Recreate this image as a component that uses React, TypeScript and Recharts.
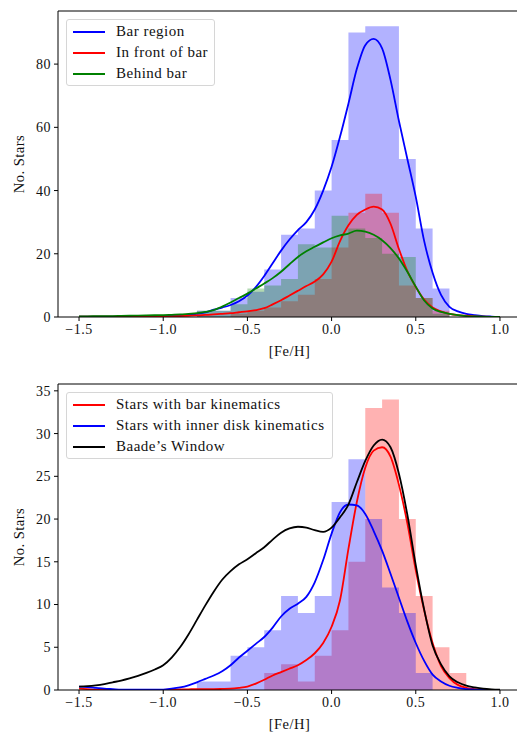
import { ComposedChart, Area, Line, XAxis, YAxis, Legend, Label, ReferenceLine } from "recharts"

// KDE sample positions ([Fe/H])
const xGrid = [
  -1.5, -1.45, -1.4, -1.35, -1.3, -1.25, -1.2, -1.15, -1.1, -1.05, -1.0, -0.95, -0.9, -0.85, -0.8, -0.75, -0.7,
  -0.65, -0.6, -0.55, -0.5, -0.45, -0.4, -0.35, -0.3, -0.25, -0.2, -0.15, -0.1, -0.05, 0, 0.05, 0.1, 0.15, 0.2,
  0.25, 0.3, 0.35, 0.4, 0.45, 0.5, 0.55, 0.6, 0.65, 0.7, 0.75, 0.8, 0.85, 0.9, 0.95, 1.0,
]

// histogram bin edges (16 bins of 0.1)
const binEdges = [-0.8, -0.7, -0.6, -0.5, -0.4, -0.3, -0.2, -0.1, 0, 0.1, 0.2, 0.3, 0.4, 0.5, 0.6, 0.7, 0.8]

// top panel counts
const barRegionHist = [2, 2, 6, 8, 15, 26, 28, 40, 56, 90, 92, 92, 50, 28, 9, 0]
const inFrontHist = [0, 0, 1, 2, 3, 5, 7, 12, 22, 33, 39, 33, 10, 6, 2, 0]
const behindHist = [2, 2, 4, 9, 10, 12, 23, 22, 32, 28, 25, 20, 19, 6, 1, 0]

// bottom panel counts
const barKinHist = [0, 0, 0, 0, 2, 3, 1, 4, 7, 15, 33, 34, 20, 11, 5, 2]
const innerDiskHist = [1, 1, 4, 5, 7, 11, 9, 11, 22, 27, 20, 12, 9, 2, 0, 0]

// top panel KDEs
const barRegionKde = [
  0.1, 0.1, 0.1, 0.1, 0.1, 0.1, 0.12, 0.15, 0.2, 0.25, 0.3, 0.4, 0.5, 0.7, 1.0, 1.5, 2.3, 3.0, 3.8, 5.0, 6.8, 9.5,
  13, 17, 21, 24.5, 27.5, 30, 34, 40, 47.5, 57, 67.5, 78.5, 86, 88, 85, 75, 62, 50, 38, 24, 14, 7, 3.2, 1.8, 1.0,
  0.6, 0.3, 0.15, 0.05,
]
const inFrontKde = [
  0.1, 0.1, 0.1, 0.1, 0.1, 0.1, 0.1, 0.12, 0.13, 0.14, 0.15, 0.2, 0.3, 0.4, 0.5, 0.65, 0.8, 1.0, 1.2, 1.5, 1.8, 2.2,
  2.8, 4.0, 5.3, 6.8, 8.3, 9.8, 11.2, 13.5, 17.5, 24, 29, 32.3, 34, 34.9, 34, 29.5, 21.5, 14.5, 9.5, 5.5, 3.0, 1.8,
  1.0, 0.6, 0.4, 0.2, 0.1, 0.05, 0.02,
]
const behindKde = [
  0.2, 0.22, 0.25, 0.28, 0.3, 0.35, 0.4, 0.45, 0.5, 0.55, 0.6, 0.7, 0.8, 1.0, 1.2, 1.6, 2.2, 3.3, 4.6, 6.0, 7.4, 9.0,
  10.6, 12.3, 14.3, 16.7, 19, 20.8, 22.2, 23.6, 24.9, 25.8, 26.4, 27.3, 27, 26, 24.3, 21.8, 18.5, 14.3, 9.6, 5.2,
  2.7, 1.6, 1.0, 0.6, 0.3, 0.2, 0.1, 0.05, 0.02,
]

// bottom panel KDEs
const barKinKde = [
  0.15, 0.1, 0.05, 0.03, 0.02, 0.02, 0.02, 0.02, 0.02, 0.02, 0.02, 0.04, 0.06, 0.08, 0.1, 0.1, 0.1, 0.12, 0.15, 0.25,
  0.4, 0.75, 1.2, 1.7, 2.1, 2.5, 2.9, 3.5, 4.3, 5.5, 7.4, 10.5, 16.5, 22, 26, 28, 28.4, 27.3, 24, 19.5, 14, 9.3,
  5.5, 2.8, 1.4, 0.6, 0.25, 0.1, 0.05, 0.02, 0.01,
]
const innerDiskKde = [
  0.4, 0.35, 0.25, 0.15, 0.1, 0.05, 0.05, 0.05, 0.05, 0.05, 0.05, 0.15, 0.3, 0.55, 0.9, 1.3, 1.7, 2.2, 2.9, 3.8,
  4.6, 5.4, 6.2, 7.3, 8.6, 9.5, 10.1, 10.9, 12.6, 15.2, 18.3, 20.8, 21.7, 21.6, 20.6, 18.6, 16.3, 13.6, 10.8, 8.0,
  5.5, 3.4, 1.8, 1.0, 0.5, 0.25, 0.1, 0.05, 0.02, 0.01, 0,
]
const baadeKde = [
  0.4, 0.45, 0.55, 0.7, 0.9, 1.1, 1.35, 1.65, 2.0, 2.4, 2.9, 3.8, 5.0, 6.5, 8.2, 9.9, 11.5, 12.9, 13.9, 14.7, 15.3,
  16.0, 16.7, 17.6, 18.4, 18.9, 19.1, 19.0, 18.7, 18.5, 19.0, 20.2, 21.7, 24.3, 26.8, 28.6, 29.3, 28.4, 25.3, 20.5,
  14.6, 9.4, 5.2, 3.0, 1.6, 0.9, 0.5, 0.3, 0.15, 0.08, 0.05,
]

const topLegend = [
  { label: "Bar region", color: "#0000ff" },
  { label: "In front of bar", color: "#ff0000" },
  { label: "Behind bar", color: "#008000" },
]
const bottomLegend = [
  { label: "Stars with bar kinematics", color: "#ff0000" },
  { label: "Stars with inner disk kinematics", color: "#0000ff" },
  { label: "Baade\u2019s Window", color: "#000000" },
]

const xTicks = [-1.5, -1.0, -0.5, 0, 0.5, 1.0]
const topYTicks = [0, 20, 40, 60, 80]
const bottomYTicks = [0, 5, 10, 15, 20, 25, 30, 35]

const FONT = '"Liberation Serif", "DejaVu Serif", serif'

function histAt(x: number, counts: number[]) {
  for (let i = 0; i < counts.length; i++) {
    if (x >= binEdges[i] - 1e-9 && x < binEdges[i + 1] - 1e-9) return counts[i]
  }
  return 0
}

const topData = xGrid.map((x, i) => ({
  x,
  barHist: histAt(x, barRegionHist),
  frontHist: histAt(x, inFrontHist),
  behindHist: histAt(x, behindHist),
  barKde: barRegionKde[i],
  frontKde: inFrontKde[i],
  behindKde: behindKde[i],
}))

const bottomData = xGrid.map((x, i) => ({
  x,
  kinHist: histAt(x, barKinHist),
  diskHist: histAt(x, innerDiskHist),
  kinKde: barKinKde[i],
  diskKde: innerDiskKde[i],
  baadeKde: baadeKde[i],
}))

const fmtX = (v: number) => (v < 0 ? "\u2212" : "") + Math.abs(v).toFixed(1)

function LegendBox({ items, width }: { items: { label: string; color: string }[]; width: number }) {
  return (
    <div
      style={{
        boxSizing: "border-box",
        width,
        height: 67,
        padding: "1px 6px 0 6px",
        border: "1px solid #d6d6d6",
        borderRadius: 3,
        background: "rgba(255,255,255,0.8)",
        fontFamily: FONT,
        fontSize: 15,
        letterSpacing: 0.5,
        color: "#111",
      }}
    >
      {items.map((it) => (
        <div key={it.label} style={{ height: 21, lineHeight: "21px", display: "flex", alignItems: "center", whiteSpace: "nowrap" }}>
          <svg width={32} height={4} style={{ marginRight: 11, flex: "none" }}>
            <line x1={0} y1={2} x2={32} y2={2} stroke={it.color} strokeWidth={2} />
          </svg>
          <span>{it.label}</span>
        </div>
      ))}
    </div>
  )
}

function yLabel(props: any) {
  const vb = props.viewBox || { x: 8, y: 0, width: 50, height: 300 }
  const cx = vb.x + 11
  const cy = vb.y + vb.height / 2
  return (
    <text
      x={cx}
      y={cy}
      transform={`rotate(-90 ${cx} ${cy})`}
      textAnchor="middle"
      dominantBaseline="central"
      style={{ fontFamily: FONT, fontSize: 14.5 }}
      fill="#111"
    >
      No. Stars
    </text>
  )
}

const tickStyle = { fill: "#111", fontSize: 14 }

export default function App() {
  return (
    <div
      style={{
        position: "absolute",
        left: 0,
        top: 0,
        width: 517,
        height: 733,
        overflow: "hidden",
        background: "#fff",
        fontFamily: FONT,
      }}
    >
      <style>{`.recharts-wrapper svg text { font-family: "Liberation Serif", "DejaVu Serif", serif; letter-spacing: 0.5px; }`}</style>
      <div style={{ position: "absolute", left: 0, top: 0 }}>
        <ComposedChart width={530} height={360} data={topData} margin={{ top: 11, right: 9, bottom: 0, left: 8 }}>
          <XAxis
            dataKey="x"
            type="number"
            domain={[-1.625, 1.125]}
            ticks={xTicks}
            tickFormatter={fmtX}
            allowDataOverflow
            height={43}
            tickSize={4}
            tickMargin={3}
            tick={tickStyle}
            stroke="#000"
          >
            <Label value="[Fe/H]" position="insideBottom" offset={4} style={{ fontSize: 14.5, fill: "#111" }} />
          </XAxis>
          <YAxis
            type="number"
            domain={[0, 96.8]}
            ticks={topYTicks}
            allowDataOverflow
            width={50}
            tickSize={4}
            tickMargin={3}
            tick={tickStyle}
            stroke="#000"
          >
            <Label content={yLabel} />
          </YAxis>
          <Area type="stepAfter" dataKey="barHist" fill="#0000ff" fillOpacity={0.3} stroke="none" isAnimationActive={false} />
          <Area type="stepAfter" dataKey="frontHist" fill="#ff0000" fillOpacity={0.3} stroke="none" isAnimationActive={false} />
          <Area type="stepAfter" dataKey="behindHist" fill="#008000" fillOpacity={0.3} stroke="none" isAnimationActive={false} />
          <Line type="monotone" dataKey="barKde" stroke="#0000ff" strokeWidth={1.8} dot={false} isAnimationActive={false} />
          <Line type="monotone" dataKey="frontKde" stroke="#ff0000" strokeWidth={1.8} dot={false} isAnimationActive={false} />
          <Line type="monotone" dataKey="behindKde" stroke="#008000" strokeWidth={1.8} dot={false} isAnimationActive={false} />
          <ReferenceLine y={96.8} stroke="#000" strokeWidth={1} />
          <ReferenceLine x={1.125} stroke="#000" strokeWidth={1} />
          <Legend
            layout="horizontal"
            verticalAlign="middle"
            align="center"
            wrapperStyle={{ top: 19, left: 66, width: "auto", height: "auto" }}
            content={() => <LegendBox items={topLegend} width={149} />}
          />
        </ComposedChart>
      </div>
      <div style={{ position: "absolute", left: 0, top: 373 }}>
        <ComposedChart width={530} height={360} data={bottomData} margin={{ top: 11, right: 9, bottom: 0, left: 8 }}>
          <XAxis
            dataKey="x"
            type="number"
            domain={[-1.625, 1.125]}
            ticks={xTicks}
            tickFormatter={fmtX}
            allowDataOverflow
            height={43}
            tickSize={4}
            tickMargin={3}
            tick={tickStyle}
            stroke="#000"
          >
            <Label value="[Fe/H]" position="insideBottom" offset={4} style={{ fontSize: 14.5, fill: "#111" }} />
          </XAxis>
          <YAxis
            type="number"
            domain={[0, 35.8]}
            ticks={bottomYTicks}
            allowDataOverflow
            width={50}
            tickSize={4}
            tickMargin={3}
            tick={tickStyle}
            stroke="#000"
          >
            <Label content={yLabel} />
          </YAxis>
          <Area type="stepAfter" dataKey="kinHist" fill="#ff0000" fillOpacity={0.3} stroke="none" isAnimationActive={false} />
          <Area type="stepAfter" dataKey="diskHist" fill="#0000ff" fillOpacity={0.3} stroke="none" isAnimationActive={false} />
          <Line type="monotone" dataKey="kinKde" stroke="#ff0000" strokeWidth={1.8} dot={false} isAnimationActive={false} />
          <Line type="monotone" dataKey="diskKde" stroke="#0000ff" strokeWidth={1.8} dot={false} isAnimationActive={false} />
          <Line type="monotone" dataKey="baadeKde" stroke="#000000" strokeWidth={1.8} dot={false} isAnimationActive={false} />
          <ReferenceLine y={35.8} stroke="#000" strokeWidth={1} />
          <ReferenceLine x={1.125} stroke="#000" strokeWidth={1} />
          <Legend
            layout="horizontal"
            verticalAlign="middle"
            align="center"
            wrapperStyle={{ top: 19, left: 66, width: "auto", height: "auto" }}
            content={() => <LegendBox items={bottomLegend} width={267} />}
          />
        </ComposedChart>
      </div>
    </div>
  )
}
